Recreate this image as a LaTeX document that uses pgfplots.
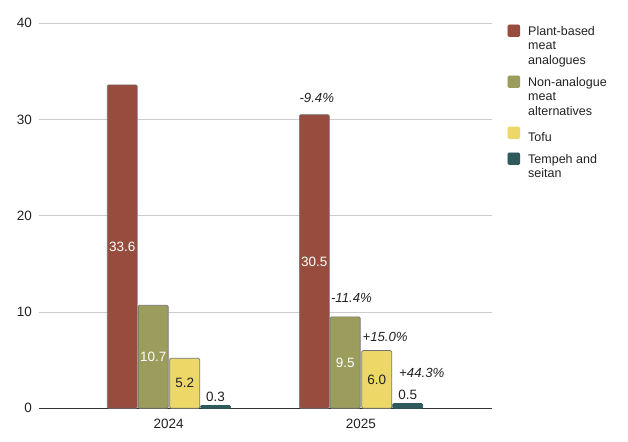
\documentclass[border=0pt]{standalone}
\usepackage{fontspec}
\setmainfont{Liberation Sans}
\usepackage{pgfplots}
\pgfplotsset{compat=1.18}
\definecolor{cRed}{RGB}{151,76,62}
\definecolor{cOlive}{RGB}{154,157,92}
\definecolor{cYellow}{RGB}{237,216,103}
\definecolor{cTeal}{RGB}{46,90,94}
\definecolor{gridc}{RGB}{204,204,204}
\definecolor{basec}{RGB}{51,51,51}
\definecolor{labc}{RGB}{34,34,34}
\definecolor{outc}{RGB}{115,115,115}
\begin{document}
\begin{tikzpicture}
\useasboundingbox (-39pt,-32.7pt) rectangle (589pt,408.3pt);
\begin{axis}[
  at={(0pt,0pt)}, anchor=south west,
  scale only axis, width=453pt, height=385pt,
  xmin=-0.6755, xmax=1.683, ymin=0, ymax=40,
  ybar, bar width=0.156, bar shift=0pt,
  axis line style={draw=none},
  tick style={draw=none},
  major tick length=0pt,
  ytick={0,10,20,30,40},
  xtick={0,1}, xticklabels={2024,2025},
  ymajorgrids, grid style={draw=gridc, line width=0.75pt},
  extra y ticks={0}, extra y tick labels={},
  extra y tick style={major grid style={draw=basec, line width=1pt}},
  tick label style={font=\fontsize{13.5}{15}\selectfont, text=labc},
  /pgf/number format/assume math mode=true,
  yticklabel style={xshift=-3.5pt},
  xticklabel style={yshift=-7.5pt},
  every axis plot/.append style={draw=outc, line width=0.7pt, rounded corners=1.2pt},
  visualization depends on={y \as \rawy},
  nodes near coords={\pgfmathprintnumber[fixed,fixed zerofill,precision=1,assume math mode=true]{\pgfplotspointmeta}},
  nodes near coords style={font=\fontsize{13.5}{15}\selectfont},
  legend style={at={(1,1)}, anchor=north west, xshift=15.3pt, yshift=-1.1pt,
    draw=none, fill=none, inner sep=0pt, row sep=10pt, column sep=8pt,
    nodes={inner sep=0pt, text=labc},
    font=\fontsize{12.5}{14.3}\selectfont, cells={align=left}},
  legend cell align=left,
]
\addplot[fill=cRed, every node near coord/.append style={text=white, anchor=center, shift={(axis direction cs:0,-\rawy/2)}},
  legend image code/.code={\fill[cRed] (0pt,9.6pt) rectangle (12pt,21.1pt);}]
  coordinates {(-0.242,33.6) (0.758,30.5)};
\addlegendentry{Plant-based\\meat\\analogues}
\addplot[fill=cOlive, every node near coord/.append style={text=white, anchor=center, shift={(axis direction cs:0,-\rawy/2)}},
  legend image code/.code={\fill[cOlive] (0pt,9.6pt) rectangle (12pt,21.1pt);}]
  coordinates {(-0.081,10.7) (0.919,9.5)};
\addlegendentry{Non-analogue\\meat\\alternatives}
\addplot[fill=cYellow, every node near coord/.append style={text=labc, anchor=center, shift={(axis direction cs:0,-\rawy/2)}},
  legend image code/.code={\fill[cYellow] (0pt,-1.2pt) rectangle (12pt,10.3pt);}]
  coordinates {(0.083,5.2) (1.083,6.0)};
\addlegendentry{Tofu}
\addplot[fill=cTeal, draw=cTeal, every node near coord/.append style={text=labc},
  legend image code/.code={\fill[cTeal] (0pt,2.45pt) rectangle (12pt,13.95pt);}]
  coordinates {(0.244,0.3) (1.244,0.5)};
\addlegendentry{Tempeh and\\seitan}
\begin{scope}[every node/.style={anchor=west, inner sep=0pt, text=labc, font=\fontsize{13.2}{14}\selectfont\itshape}]
\node at (axis cs:0.680,32.2) {-9.4\%};
\node at (axis cs:0.844,11.43) {-11.4\%};
\node at (axis cs:1.008,7.44) {+15.0\%};
\node at (axis cs:1.199,3.64) {+44.3\%};
\end{scope}
\end{axis}
\end{tikzpicture}
\end{document}
